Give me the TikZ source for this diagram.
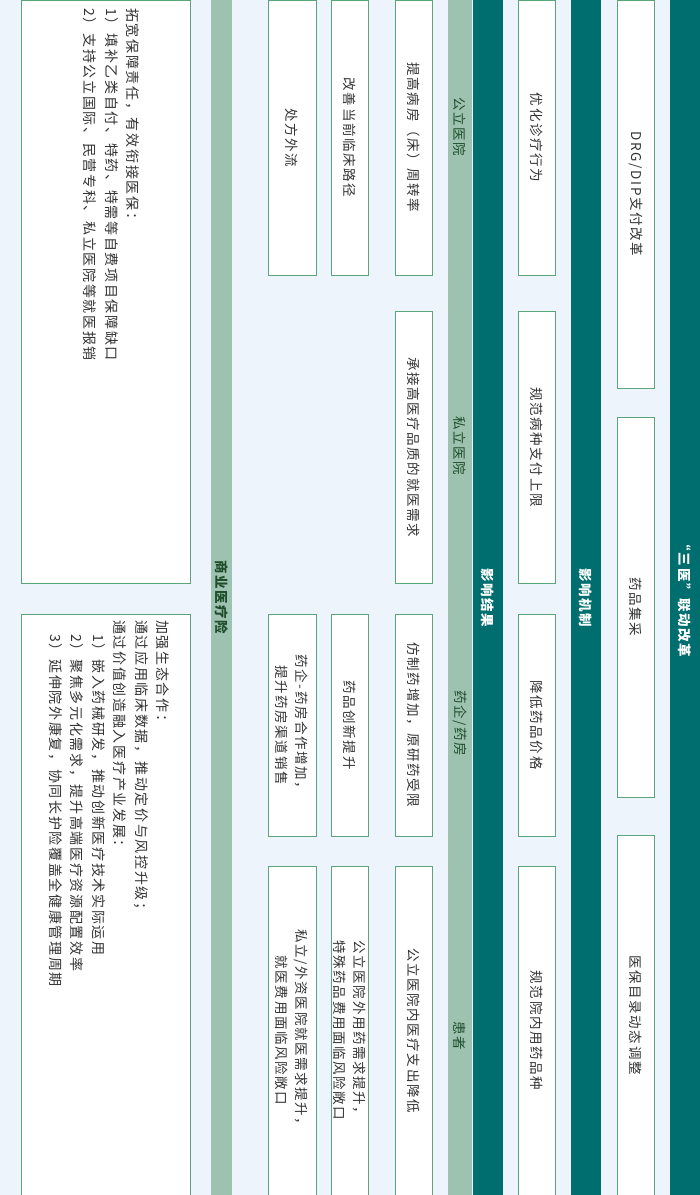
\documentclass[tikz,border=0pt]{standalone}
\usepackage{fontspec}
\setmainfont{Noto Sans CJK SC}
\newfontfamily\cjk[LetterSpace=12]{Noto Sans CJK SC}
\definecolor{bgc}{HTML}{EDF4FB}
\definecolor{teal1}{HTML}{006E6E}
\definecolor{lgreen}{HTML}{9DC2B0}
\definecolor{bord}{HTML}{5AA67A}
\definecolor{dgreen}{HTML}{1E4D2B}
\definecolor{txt}{HTML}{333333}
\tikzset{
  box/.style={draw=bord,line width=0.8pt,fill=white,rotate=-90,inner sep=2pt,align=center,
    font=\cjk\fontsize{13.5}{20}\selectfont,text=txt},
  band/.style={fill=teal1,draw=none,rotate=-90,text=white,font=\cjk\bfseries\fontsize{13.5}{15}\selectfont},
  lband/.style={fill=lgreen,draw=none,rotate=-90,text=dgreen,font=\cjk\fontsize{13.5}{15}\selectfont},
  lab/.style={rotate=-90,text=dgreen,font=\cjk\fontsize{13.5}{15}\selectfont,inner sep=0pt},
  para/.style={rotate=-90,anchor=north west,inner sep=0pt,align=left,text=txt,
    font=\cjk\fontsize{14}{21.5}\selectfont}
}
\newcommand{\bx}[6]{\node[box,minimum width={#5-#4},minimum height={#3-#2}] (#1) at ({(#2+#3)/2},{(#4+#5)/2}) {#6};}
\begin{document}
\begin{tikzpicture}[x=1pt,y=-1pt]
\fill[bgc] (0,0) rectangle (700,1195);
\useasboundingbox (0,0) rectangle (700,1195);
% teal bands
\node[band,minimum width=1195,minimum height=31] (b1) at (685,597.5) {“三医”联动改革};
\node[band,minimum width=1195,minimum height=30] (b2) at (586,597.5) {影响机制};
\node[band,minimum width=1195,minimum height=30] (b3) at (488,597.5) {影响结果};
\node[lband,minimum width=1195,minimum height=24] (b4) at (460,597.5) {};
\node[lab] (l1) at (460,127) {公立医院};
\node[lab] (l2) at (460,446) {私立医院};
\node[lab] (l3) at (460,723) {药企/药房};
\node[lab] (l4) at (460,1036) {患者};
\node[lband,minimum width=1195,minimum height=21,font=\cjk\bfseries\fontsize{13.5}{15}\selectfont] (b5) at (221.5,597.5) {商业医疗险};
% reform boxes
\bx{r1}{617}{654}{0}{388}{DRG/DIP支付改革}
\bx{r2}{617}{654}{417}{797}{药品集采}
\bx{r3}{617}{654}{835}{1195}{医保目录动态调整}
% mechanism
\bx{m1}{518}{555}{0}{275}{优化诊疗行为}
\bx{m2}{518}{555}{311}{583}{规范病种支付上限}
\bx{m3}{518}{555}{614}{836}{降低药品价格}
\bx{m4}{518}{555}{866}{1195}{规范院内用药品种}
% results row 1
\bx{a1}{395}{432}{0}{275}{提高病房（床）周转率}
\bx{a2}{395}{432}{311}{583}{承接高医疗品质的就医需求}
\bx{a3}{395}{432}{614}{836}{仿制药增加，原研药受限}
\bx{a4}{395}{432}{866}{1195}{公立医院内医疗支出降低}
% row 2
\bx{c1}{331}{368}{0}{275}{改善当前临床路径}
\bx{c3}{331}{368}{614}{836}{药品创新提升}
\bx{c4}{331}{368}{866}{1195}{公立医院外用药需求提升，\\特殊药品费用面临风险敞口}
% row 3
\bx{d1}{268}{316}{0}{275}{处方外流}
\bx{d3}{268}{316}{614}{836}{药企-药房合作增加，\\提升药房渠道销售}
\bx{d4}{268}{316}{866}{1195}{私立/外资医院就医需求提升，\\就医费用面临风险敞口}
% big boxes
\bx{e1}{21}{190}{0}{583}{}
\bx{e2}{21}{190}{614}{1195}{}
\node[para] (t1) at (140,8) {拓宽保障责任，有效衔接医保：\\1）填补乙类自付、特药、特需等自费项目保障缺口\\2）支持公立国际、民营专科、私立医院等就医报销};
\node[para] (t2) at (170,620) {加强生态合作：\\通过应用临床数据，推动定价与风控升级；\\通过价值创造融入医疗产业发展：\\\hspace*{1em}1）嵌入药械研发，推动创新医疗技术实际运用\\\hspace*{1em}2）聚焦多元化需求，提升高端医疗资源配置效率\\\hspace*{1em}3）延伸院外康复，协同长护险覆盖全健康管理周期};
\end{tikzpicture}
\end{document}
